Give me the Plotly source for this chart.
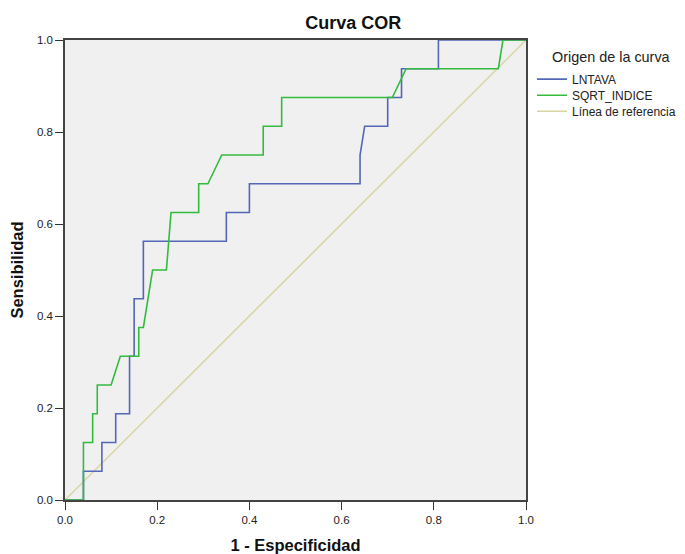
import plotly.graph_objects as go

# ROC curve data (1 - specificity, sensitivity)
lntava_fpr = [0, 0.04, 0.04, 0.08, 0.08, 0.11, 0.11, 0.14, 0.14, 0.15, 0.15, 0.17, 0.17,
              0.35, 0.35, 0.40, 0.40, 0.64, 0.64, 0.65, 0.70, 0.70, 0.73, 0.73, 0.81, 0.81, 1.0]
lntava_tpr = [0, 0, 0.0625, 0.0625, 0.125, 0.125, 0.1875, 0.1875, 0.3125, 0.3125, 0.4375, 0.4375, 0.5625,
              0.5625, 0.625, 0.625, 0.6875, 0.6875, 0.75, 0.8125, 0.8125, 0.875, 0.875, 0.9375, 0.9375, 1.0, 1.0]

sqrt_fpr = [0, 0.04, 0.04, 0.06, 0.06, 0.07, 0.07, 0.10, 0.12, 0.16, 0.16, 0.17, 0.19, 0.22,
            0.23, 0.29, 0.29, 0.31, 0.34, 0.43, 0.43, 0.47, 0.47, 0.71, 0.74, 0.94, 0.95, 1.0]
sqrt_tpr = [0, 0, 0.125, 0.125, 0.1875, 0.1875, 0.25, 0.25, 0.3125, 0.3125, 0.375, 0.375, 0.5, 0.5,
            0.625, 0.625, 0.6875, 0.6875, 0.75, 0.75, 0.8125, 0.8125, 0.875, 0.875, 0.9375, 0.9375, 1.0, 1.0]

ref_x = [0, 1]
ref_y = [0, 1]

tick_vals = [0.0, 0.2, 0.4, 0.6, 0.8, 1.0]
tick_text = ["0.0", "0.2", "0.4", "0.6", "0.8", "1.0"]

font = "Liberation Sans, Arial, sans-serif"

fig = go.Figure()
fig.add_trace(go.Scatter(x=ref_x, y=ref_y, mode="lines", name="Línea de referencia",
                         line=dict(color="#d8d4a4", width=1.5), legend="legend3", showlegend=True))
fig.add_trace(go.Scatter(x=lntava_fpr, y=lntava_tpr, mode="lines", name="LNTAVA",
                         line=dict(color="#5466b8", width=1.6), legend="legend", showlegend=True))
fig.add_trace(go.Scatter(x=sqrt_fpr, y=sqrt_tpr, mode="lines", name="SQRT_INDICE",
                         line=dict(color="#33bb3e", width=1.6), legend="legend2", showlegend=True))

leg_common = dict(x=1.013, xanchor="left", yanchor="middle",
                  font=dict(size=12, color="#222"), bgcolor="rgba(0,0,0,0)", itemwidth=30)

fig.update_layout(
    width=677, height=546,
    showlegend=True,
    margin=dict(l=57, r=159, t=32, b=54, autoexpand=False),
    paper_bgcolor="white",
    plot_bgcolor="#f0f0f0",
    font=dict(family=font, size=11.5, color="#222"),
    title=dict(text="<b>Curva COR</b>", x=0.51, xanchor="center", y=0.9725, yanchor="middle",
               yref="container", font=dict(size=18, color="#111")),
    legend=dict(y=0.915, **leg_common),
    legend2=dict(y=0.880, **leg_common),
    legend3=dict(y=0.845, **leg_common),
    annotations=[dict(text="Origen de la curva", xref="paper", yref="paper", x=1.052, y=0.963,
                      xanchor="left", yanchor="middle", showarrow=False,
                      font=dict(size=14.4, color="#222"))],
    xaxis=dict(range=[0, 1], tickvals=tick_vals, ticktext=tick_text, ticks="outside", ticklen=8,
               tickcolor="#333", showline=True, linecolor="#444", linewidth=1.5, mirror=True,
               showgrid=False, zeroline=False, automargin=False,
               title=dict(text="<b>1 - Especificidad</b>", font=dict(size=16.5, color="#111"), standoff=18)),
    yaxis=dict(range=[0, 1], tickvals=tick_vals, ticktext=tick_text, ticks="outside", ticklen=8,
               tickcolor="#333", showline=True, linecolor="#444", linewidth=1.5, mirror=True,
               showgrid=False, zeroline=False, automargin=False,
               title=dict(text="<b>Sensibilidad</b>", font=dict(size=16.5, color="#111"), standoff=10)),
)

fig.write_html("out.html")
